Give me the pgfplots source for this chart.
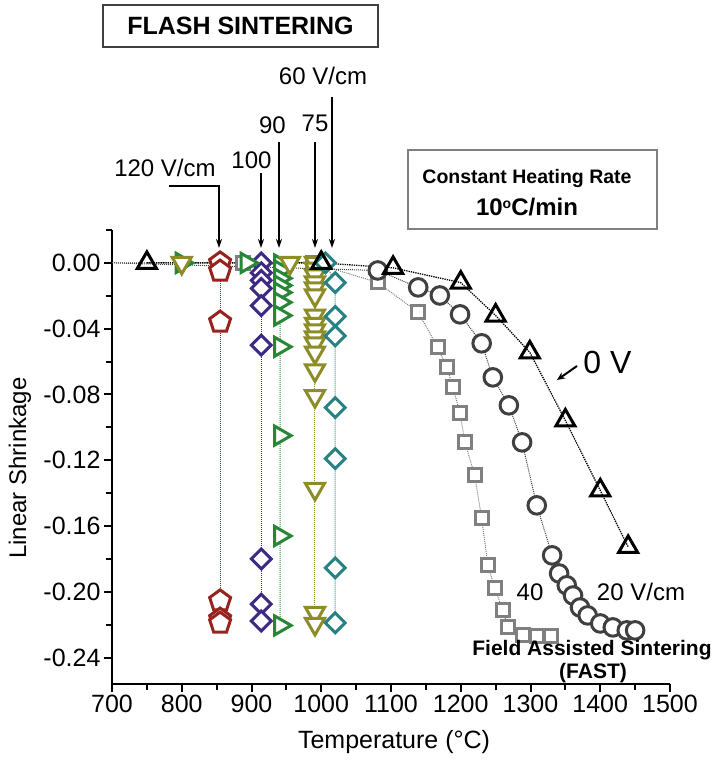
\documentclass[border=0pt]{standalone}
\usepackage{fontspec}
\setmainfont{Liberation Sans}
\usepackage{pgfplots}
\pgfplotsset{compat=1.18}
\usetikzlibrary{arrows.meta}
\definecolor{cred}{RGB}{150,35,30}
\definecolor{cpurple}{RGB}{62,42,132}
\definecolor{cgreen}{RGB}{40,135,55}
\definecolor{colive}{RGB}{140,140,40}
\definecolor{cteal}{RGB}{40,130,130}
\definecolor{cgray}{RGB}{128,128,128}
\definecolor{cdark}{RGB}{64,64,64}
\newcommand{\fs}[1]{\fontsize{#1}{#1}\selectfont}
\begin{document}
\begin{tikzpicture}[x=1pt,y=1pt]
\path[use as bounding box] (-112,-78) rectangle (604,684);
\begin{axis}[
  at={(0,0)}, anchor=south west, scale only axis,
  width=558pt, height=454pt,
  xmin=700, xmax=1500, ymin=-0.256, ymax=0.02,
  axis x line*=bottom, axis y line*=left,
  axis line style={line width=2pt,-},
  xtick={700,800,900,1000,1100,1200,1300,1400,1500},
  minor xtick={750,850,950,1050,1150,1250,1350,1450},
  ytick={-0.24,-0.20,-0.16,-0.12,-0.08,-0.04,0},
  minor ytick={0.02,-0.02,-0.06,-0.10,-0.14,-0.18,-0.22},
  tick align=outside,
  major tick length=8pt, minor tick length=6pt,
  tick style={black, line width=2pt},
  minor tick style={black, line width=2pt},
  tick label style={font=\fs{25}},
  /pgf/number format/assume math mode=true,
  x tick label style={/pgf/number format/1000 sep={}},
  y tick label style={/pgf/number format/.cd, fixed, fixed zerofill, precision=2},
  clip=false,
]
% 40 V/cm
\addplot[cgray, densely dotted, line width=1pt, no marks] coordinates {(700,0) (888,0)};
\addplot[cgray, densely dotted, line width=1pt, mark=square*, mark size=6.5pt,
  mark options={solid, fill=white, line width=3pt}] coordinates {
(888,0) (988,0) (1081,-0.0119) (1139,-0.0301) (1167,-0.0514) (1180,-0.0635) (1189,-0.0757)
(1199,-0.0915) (1206,-0.1091) (1220,-0.1292) (1230,-0.1553) (1239,-0.1839) (1249,-0.1979)
(1260,-0.2110) (1268,-0.2216) (1289,-0.2265) (1310,-0.2268) (1330,-0.2268)};
% 20 V/cm
\addplot[cdark, densely dotted, line width=1pt, no marks] coordinates {(700,0) (1081,-0.0046)};
\addplot[cdark, densely dotted, line width=1pt, mark=*, mark size=8.8pt,
  mark options={solid, fill=white, line width=3pt}] coordinates {
(1081,-0.0046) (1139,-0.0149) (1170,-0.0198) (1199,-0.0313) (1230,-0.0489) (1246,-0.0696)
(1269,-0.0866) (1288,-0.1091) (1309,-0.1474) (1331,-0.1778) (1341,-0.1888) (1352,-0.1960)
(1361,-0.2022) (1371,-0.2095) (1382,-0.2143) (1400,-0.2192) (1418,-0.2216) (1438,-0.2234)
(1450,-0.2234)};
% 120 V/cm
\addplot[cred, densely dotted, line width=1pt, mark=pentagon*, mark size=11pt,
  mark options={solid, fill=white, line width=3pt}] coordinates {
(855,0) (855,-0.005) (855,-0.036) (855,-0.2055) (855,-0.2165) (855,-0.219)};
% 100 V/cm
\addplot[cpurple, densely dotted, line width=1pt, mark=square*, mark size=7pt,
  mark options={solid, fill=white, line width=3pt, rotate=45}] coordinates {
(914,0) (914,-0.006) (914,-0.0106) (914,-0.0155) (914,-0.026) (914,-0.050)
(914,-0.180) (914,-0.2074) (914,-0.2177)};
% 90 V/cm
\addplot[cgreen, densely dotted, line width=1pt, mark=triangle*, mark size=11pt,
  mark options={solid, fill=white, line width=3pt, rotate=-90}] coordinates {
(800,0) (893,0) (941,-0.001) (941,-0.0045) (941,-0.0094) (941,-0.0137) (941,-0.018)
(941,-0.024) (941,-0.032) (941,-0.051) (941,-0.105) (941,-0.166) (941,-0.2204)};
% 75 V/cm
\addplot[colive, densely dotted, line width=1pt, mark=triangle*, mark size=11pt,
  mark options={solid, fill=white, line width=3pt, rotate=180}] coordinates {
(800,0) (955,0) (991,0) (991,-0.0035) (991,-0.0076) (991,-0.0119) (991,-0.0155)
(991,-0.0198) (991,-0.032) (991,-0.037) (991,-0.041) (991,-0.0453) (991,-0.049)
(991,-0.0545) (991,-0.0653) (991,-0.081) (991,-0.1374) (991,-0.2128) (991,-0.2195)};
% 60 V/cm
\addplot[cteal, densely dotted, line width=1pt, mark=square*, mark size=7pt,
  mark options={solid, fill=white, line width=3pt, rotate=45}] coordinates {
(1006,0) (1020,-0.012) (1020,-0.0325) (1020,-0.0444) (1020,-0.088) (1020,-0.119)
(1020,-0.1854) (1020,-0.2188)};
% 0 V
\addplot[black, densely dotted, line width=1.3pt, mark=triangle, mark size=11pt,
  mark options={solid, line width=3pt}] coordinates {
(750,0) (1000,0) (1103,-0.003) (1200,-0.012) (1250,-0.032) (1299,-0.0544)
(1350,-0.0958) (1400,-0.1383) (1440,-0.1727)};
\end{axis}
% axis labels
\node[rotate=90, font=\fs{24}] at (-92,216) {Linear Shrinkage};
\node[font=\fs{25}] at (282,-58) {Temperature (°C)};
% flash sintering box
\draw[line width=1.3pt, black!75] (-9,679) rectangle (266,637);
\node[font=\fs{25}\bfseries] at (128.5,658) {FLASH SINTERING};
% field labels and arrows
\node[font=\fs{24}] at (211,608) {60 V/cm};
\node[font=\fs{24}] at (160.5,559) {90};
\node[font=\fs{24}] at (203,561) {75};
\node[font=\fs{24}] at (139.5,524) {100};
\node[font=\fs{24}] at (53,516) {120 V/cm};
\begin{scope}[line width=1.4pt, -{Stealth[length=9pt,width=6pt]}]
\draw (220,587) -- (220,436);
\draw (167,542) -- (167,436);
\draw (203,542) -- (203,436);
\draw (149,511) -- (149,436);
\draw (57,498) -- (107,498) -- (107,436);
\end{scope}
% constant heating rate box
\draw[line width=1.3pt, black!50] (296,534) rectangle (545,455);
\node[font=\fs{19.5}\bfseries] at (415,505) {Constant Heating Rate};
\node[font=\fs{24}\bfseries] at (415,477) {10\raisebox{0.55ex}{\fs{14}o}C/min};
% 0 V
\node[font=\fs{32}] at (495.5,322) {0 V};
\draw[line width=2pt, -{Stealth[length=8pt,width=7pt]}] (465,318) -- (445,304);
% FAST labels
\node[font=\fs{24}] at (418,92) {40};
\node[font=\fs{24}] at (529,92) {20 V/cm};
\node[font=\fs{21}\bfseries] at (480,34) {Field Assisted Sintering};
\node[font=\fs{21}\bfseries] at (481,11) {(FAST)};
\end{tikzpicture}
\end{document}
